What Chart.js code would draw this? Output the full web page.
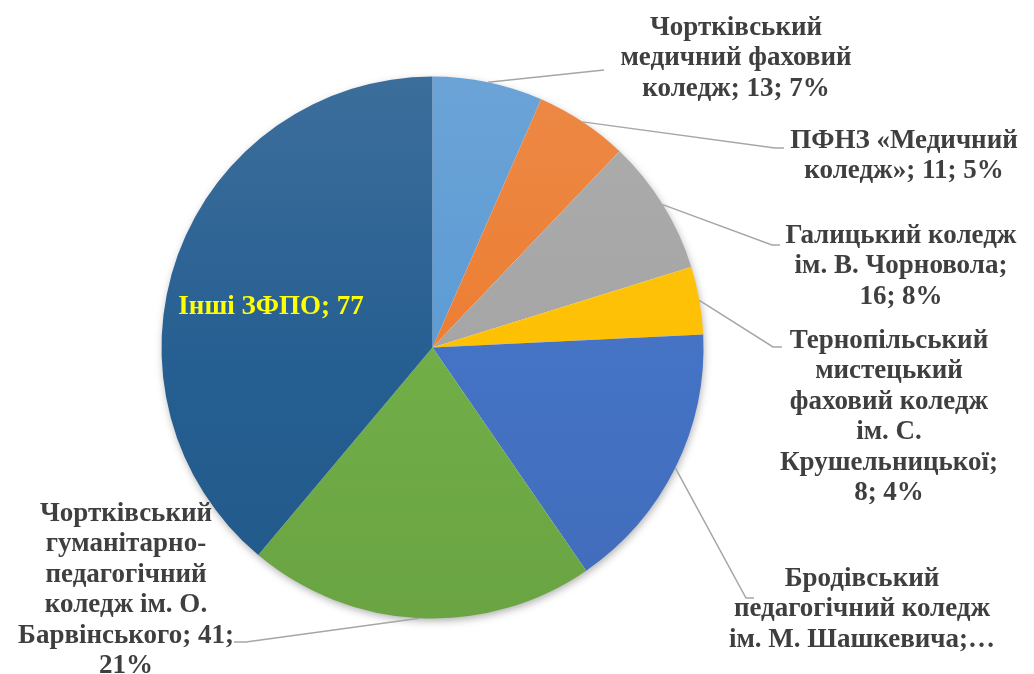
<!DOCTYPE html>
<html>
<head>
<meta charset="utf-8">
<script src="https://cdn.jsdelivr.net/npm/chart.js@4.4.1/dist/chart.umd.min.js"></script>
<style>
  html, body { margin: 0; padding: 0; background: #ffffff; }
  #wrap { width: 1034px; height: 674px; position: relative; }
</style>
</head>
<body>
<div id="wrap"><canvas id="pieChart"></canvas></div>
<script>
const categories = [
    'Чортківський медичний фаховий коледж',
    'ПФНЗ «Медичний коледж»',
    'Галицький коледж ім. В. Чорновола',
    'Тернопільський мистецький фаховий коледж ім. С. Крушельницької',
    'Бродівський педагогічний коледж ім. М. Шашкевича',
    'Чортківський гуманітарно-педагогічний коледж ім. О. Барвінського',
    'Інші ЗФПО'
];
const values = [13, 11, 16, 8, 32, 41, 77];
const sliceColors = ['#5B9BD5', '#ED7D31', '#A5A5A5', '#FFC000', '#4472C4', '#70AD47', '#255E91'];

// підписи так, як вони розбиті на рядки на малюнку
const labelLines = [
    ['Чортківський', 'медичний фаховий', 'коледж; 13; 7%'],
    ['ПФНЗ «Медичний', 'коледж»; 11; 5%'],
    ['Галицький коледж', 'ім. В. Чорновола;', '16; 8%'],
    ['Тернопільський', 'мистецький', 'фаховий коледж', 'ім. С.', 'Крушельницької;', '8; 4%'],
    ['Бродівський', 'педагогічний коледж', 'ім. М. Шашкевича;…'],
    ['Чортківський', 'гуманітарно-', 'педагогічний', 'коледж ім. О.', 'Барвінського; 41;', '21%'],
    ['Інші ЗФПО; 77']
];

// розміщення підписів: центр блоку тексту, перший рядок, точки виносної лінії
const labelLayout = [
    { x: 736, y: 28, line: [[604, 70]] },
    { x: 904, y: 141, line: [[775, 148], [784, 148]] },
    { x: 901, y: 236, line: [[772, 245], [780, 245]] },
    { x: 889, y: 341, line: [[773, 347], [782, 347]] },
    { x: 862, y: 579, line: [[746, 598], [754, 598]] },
    { x: 126, y: 514, line: [[246, 642], [234, 642]] },
    { x: 271, y: 307, inside: true }
];

const LINE_H = 30.5;
const FONT = 'bold 27px "Liberation Serif", "Times New Roman", serif';

const mix = (hex, target, t) => {
    const n = parseInt(hex.slice(1), 16);
    const r = (n >> 16) & 255, g = (n >> 8) & 255, b = n & 255;
    const m = (c) => Math.round(c + (target - c) * t);
    return `rgb(${m(r)}, ${m(g)}, ${m(b)})`;
};

const gradientFill = (context) => {
    const chart = context.chart;
    const area = chart.chartArea;
    const base = sliceColors[context.dataIndex];
    if (!area) return base;
    const g = chart.ctx.createLinearGradient(0, area.top, 0, area.bottom);
    g.addColorStop(0, mix(base, 225, 0.12));
    g.addColorStop(0.55, base);
    g.addColorStop(1, mix(base, 0, 0.05));
    return g;
};

//тінь під кругом
const shadowPlugin = {
    id: 'pieShadow',
    beforeDatasetsDraw(chart) {
        const arc = chart.getDatasetMeta(0).data[0];
        if (!arc) return;
        const ctx = chart.ctx;
        ctx.save();
        ctx.shadowColor = 'rgba(0, 0, 0, 0.35)';
        ctx.shadowBlur = 8;
        ctx.shadowOffsetX = 1;
        ctx.shadowOffsetY = 3;
        ctx.fillStyle = '#ffffff';
        ctx.beginPath();
        ctx.arc(arc.x, arc.y, arc.outerRadius - 1, 0, Math.PI * 2);
        ctx.fill();
        ctx.restore();
    }
};

//підписи з виносними лініями
const labelPlugin = {
    id: 'outsideLabels',
    afterDatasetsDraw(chart) {
        const ctx = chart.ctx;
        const meta = chart.getDatasetMeta(0);
        ctx.save();
        ctx.font = FONT;
        ctx.textAlign = 'center';
        ctx.textBaseline = 'middle';
        meta.data.forEach((arc, i) => {
            const lay = labelLayout[i];
            if (lay.inside) {
                ctx.fillStyle = '#FFFF00';
                labelLines[i].forEach((t, k) => ctx.fillText(t, lay.x, lay.y + k * LINE_H));
                return;
            }
            const mid = (arc.startAngle + arc.endAngle) / 2;
            const sx = arc.x + Math.cos(mid) * arc.outerRadius;
            const sy = arc.y + Math.sin(mid) * arc.outerRadius;
            ctx.strokeStyle = '#A6A6A6';
            ctx.lineWidth = 1.5;
            ctx.beginPath();
            ctx.moveTo(sx, sy);
            lay.line.forEach(p => ctx.lineTo(p[0], p[1]));
            ctx.stroke();
            ctx.fillStyle = '#3F3F3F';
            labelLines[i].forEach((t, k) => ctx.fillText(t, lay.x, lay.y + k * LINE_H));
        });
        ctx.restore();
    }
};

new Chart(document.getElementById('pieChart'), {
    type: 'pie',
    data: {
        labels: categories,
        datasets: [{
            data: values,
            backgroundColor: gradientFill,
            borderWidth: 0
        }]
    },
    options: {
        responsive: true,
        maintainAspectRatio: false,
        animation: false,
        layout: { padding: { left: 161.5, right: 330.5, top: 76.5, bottom: 55.5 } },
        plugins: {
            legend: { display: false },
            tooltip: { enabled: false }
        }
    },
    plugins: [shadowPlugin, labelPlugin]
});
</script>
</body>
</html>
